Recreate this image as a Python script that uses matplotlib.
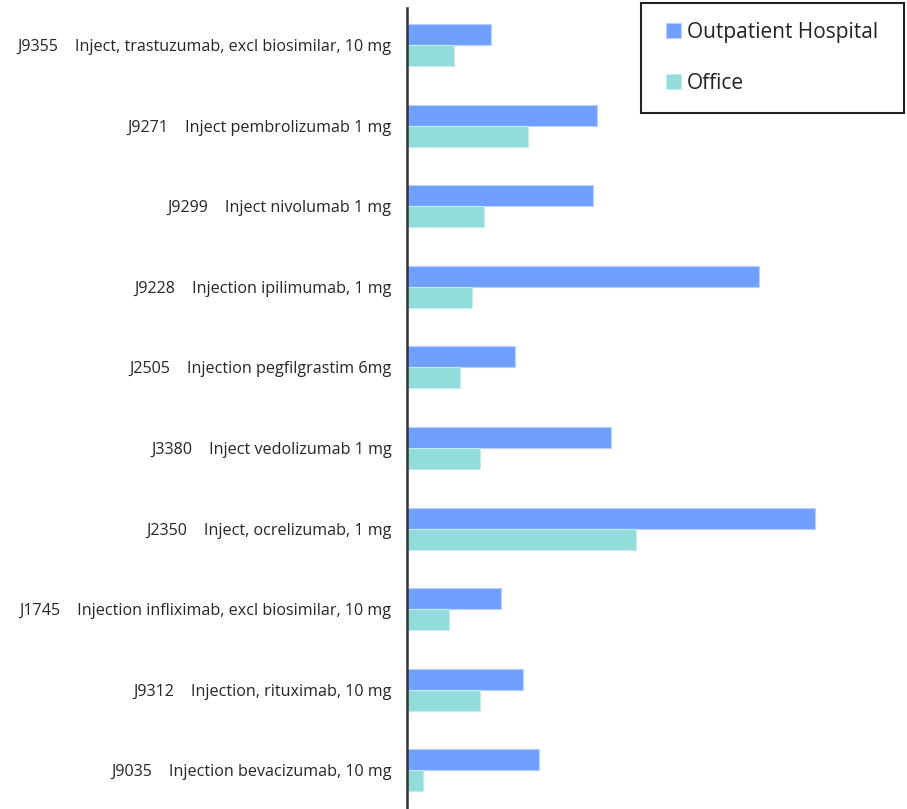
import numpy as np
import matplotlib
matplotlib.use("Agg")
import matplotlib.pyplot as plt
from matplotlib.patches import Rectangle
from matplotlib.transforms import IdentityTransform

codes = ["J9355", "J9271", "J9299", "J9228", "J2505",
         "J3380", "J2350", "J1745", "J9312", "J9035"]
names = ["Inject, trastuzumab, excl biosimilar, 10 mg",
         "Inject pembrolizumab 1 mg",
         "Inject nivolumab 1 mg",
         "Injection ipilimumab, 1 mg",
         "Injection pegfilgrastim 6mg",
         "Inject vedolizumab 1 mg",
         "Inject, ocrelizumab, 1 mg",
         "Injection infliximab, excl biosimilar, 10 mg",
         "Injection, rituximab, 10 mg",
         "Injection bevacizumab, 10 mg"]
outpatient = [84, 190, 186, 352, 108, 204, 408, 94, 116, 132]
office = [47, 121, 77, 65, 53, 73, 229, 42, 73, 16]

plt.rcParams['font.family'] = ['Open Sans', 'DejaVu Sans']

fig = plt.figure(figsize=(9.07, 8.09), dpi=100)
ax = fig.add_axes([407 / 907, 0, 500 / 907, 801 / 809])

y = np.arange(len(codes))
h = 0.26
ax.barh(y - h / 2, outpatient, height=h, color='#6FA0FF',
        edgecolor='#B8CFFF', linewidth=0.8, label='Outpatient Hospital')
ax.barh(y + h / 2, office, height=h, color='#93DCDC',
        edgecolor='#C4ECEC', linewidth=0.8, label='Office')

ax.set_xlim(0, 500)
ax.set_ylim(9.48, -0.46)
ax.set_yticks(y)
ax.set_yticklabels([c + "    " + n for c, n in zip(codes, names)], fontsize=11.6,
                   color='#262626')
ax.tick_params(axis='y', length=0, pad=11)
ax.set_xticks([])
for s in ['top', 'right', 'bottom']:
    ax.spines[s].set_visible(False)
ax.spines['left'].set_color('#333333')
ax.spines['left'].set_linewidth(1.8)

leg = ax.legend(loc='upper right', bbox_to_anchor=(897 / 907, 1 - 3 / 809),
                bbox_transform=fig.transFigure, fontsize=15, frameon=False,
                handlelength=0.7, handleheight=0.7, handletextpad=0.3,
                labelspacing=1.45, borderpad=0.9, borderaxespad=0)
for t in leg.get_texts():
    t.set_color('#222222')

# legend frame: a bit wider than the legend's own padding allows
fig.canvas.draw()
bb = leg.get_window_extent()
frame = Rectangle((bb.x0 - 7, bb.y0), bb.width + 14, bb.height, fill=False,
                  edgecolor='#222222', linewidth=1.5,
                  transform=IdentityTransform())
fig.add_artist(frame)

fig.savefig('out.png', dpi=100)
